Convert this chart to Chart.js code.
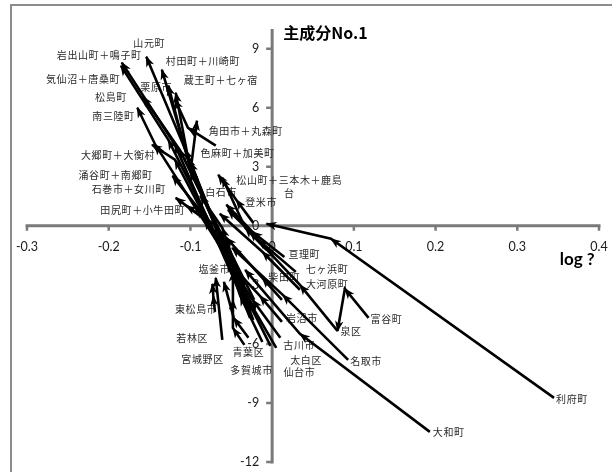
<!DOCTYPE html>
<html>
<head>
<meta charset="utf-8">
<script src="https://cdn.jsdelivr.net/npm/chart.js@4/dist/chart.umd.min.js"></script>
<style>
  html, body { margin: 0; padding: 0; background: #fff; }
  #wrap { width: 612px; height: 472px; position: relative; }
</style>
</head>
<body>
<div id="wrap"><canvas id="c"></canvas></div>
<script>
// Municipality trajectories: x = log growth, y = principal component No.1 score
const names = [
  '岩出山町＋鳴子町', '気仙沼＋唐桑町', '山元町', '村田町＋川崎町', '蔵王町＋七ヶ宿',
  '栗原市', '松島町', '南三陸町', '角田市＋丸森町', '色麻町＋加美町',
  '大郷町＋大衡村', '涌谷町＋南郷町', '石巻市＋女川町', '田尻町＋小牛田町', '白石市',
  '登米市', '松山町＋三本木＋鹿島\n台', '利府町', '大和町', '名取市',
  '富谷町', '泉区', '大河原町', '七ヶ浜町', '亘理町',
  '柴田町', '岩沼市', '古川市', '太白区', '仙台市',
  '多賀城市', '青葉区', '宮城野区', '若林区', '東松島市', '塩釜市'
];

const trackX = [
  [-0.033, -0.119, -0.184], [-0.029, -0.127, -0.185], [-0.027, -0.100, -0.154],
  [-0.023, -0.106, -0.135], [-0.026, -0.103, -0.118], [-0.021, -0.100, -0.127],
  [-0.033, -0.113, -0.158], [-0.061, -0.143, -0.165], [-0.069, -0.103, -0.119],
  [-0.022, -0.100, -0.092], [-0.058, -0.119, -0.147], [-0.033, -0.091, -0.122],
  [-0.032, -0.082, -0.118], [-0.031, -0.070, -0.105], [-0.037, -0.061, -0.088],
  [-0.023, -0.044, -0.066], [-0.007, -0.033, -0.061], [0.345, 0.072, -0.007],
  [0.193, 0.034, -0.033], [0.093, 0.013, -0.049], [0.118, 0.089, 0.080],
  [0.080, 0.034, -0.027], [0.034, -0.012, -0.064], [0.029, -0.017, -0.054],
  [0.015, -0.024, -0.056], [0.012, -0.012, -0.056], [0.012, -0.015, -0.058],
  [0.010, -0.024, -0.056], [0.005, -0.029, -0.054], [-0.002, -0.035, -0.058],
  [-0.012, -0.039, -0.053], [-0.029, -0.047, -0.059], [-0.034, -0.048, -0.048, -0.048],
  [-0.061, -0.069], [-0.070, -0.072, -0.073], [-0.021, -0.042, -0.051]
];

const trackY = [
  [-4.02, 4.12, 8.29], [-3.76, 4.37, 8.13], [-4.68, 3.25, 8.59],
  [-4.78, 3.86, 7.93], [-4.37, 3.46, 6.76], [-4.52, 2.85, 7.12],
  [-3.00, 3.86, 6.56], [-1.22, 4.12, 6.00], [4.07, 4.98, 6.41],
  [-3.76, 2.75, 5.34], [-1.47, 3.36, 4.12], [-3.25, 0.92, 2.54],
  [-3.51, 0.31, 1.42], [-4.02, 0.05, 1.02], [-3.00, -0.10, 1.53],
  [0.15, 1.32, 2.59], [-1.22, -0.10, 2.44], [-8.74, -0.66, 0.10],
  [-10.47, -5.49, -2.24], [-6.81, -3.51, -1.12], [-4.68, -3.20, -5.34],
  [-5.34, -3.00, -0.31], [-3.25, -1.32, 0.61], [-2.34, -0.71, 0.81],
  [-1.58, -0.31, 1.07], [-3.76, -2.64, -0.61], [-4.88, -3.56, -1.63],
  [-5.69, -3.76, -1.63], [-6.20, -3.76, -1.32], [-6.10, -3.36, -0.97],
  [-5.90, -3.56, -1.83], [-5.69, -4.68, -2.85], [-6.05, -5.19, -3.76, -2.34],
  [-5.80, -2.64], [-4.37, -3.56, -2.95], [-4.27, -2.64, -1.63]
];

// which point of each trajectory carries its name
const labelPoint = [2, 2, 2, 2, 2, 2, 2, 2, 0, 1, 2, 2, 2, 2, 2, 1, 2, 0, 0, 0,
                    0, 0, 0, 0, 0, 1, 0, 0, 0, 0, 0, 0, 0, 0, 0, 2];

const xTicks = [-0.3, -0.2, -0.1, 0, 0.1, 0.2, 0.3, 0.4];
const xTickLabels = ['-0.3', '-0.2', '-0.1', '0', '0.1', '0.2', '0.3', '0.4'];
const yTicks = [-12, -9, -6, -3, 0, 3, 6, 9];
const yTickLabels = ['-12', '-9', '-6', '-3', '0', '3', '6', '9'];

const yTitle = '主成分No.1';
const xTitle = 'log ?';

// name placement relative to the labelled point (pixels)
const labelOffset = [
  [-65, -7], [-75, 13], [-13, -14], [4, -9], [8, -13], [-28, 2], [-48, 0], [-45, 8],
  [-7, -15], [10, -18], [-71, 10], [-94, -1], [-84, -9], [-86, 4], [5, -4], [9, 2],
  [14, 2], [2, 1], [3, 0], [2, 1], [2, 1], [3, 0], [6, -6], [10, -3], [4, -3],
  [6, -1], [4, -4], [3, 7], [14, 12], [13, 26], [-32, 28], [-16, 14], [-63, 14],
  [-46, -2], [-40, -3], [-32, 11]
];

const datasets = names.map((n, i) => ({
  label: n,
  data: trackX[i].map((x, k) => ({ x: x, y: trackY[i][k] })),
  showLine: true,
  borderColor: '#000',
  backgroundColor: '#000',
  borderWidth: 2.6,
  pointRadius: 0,
  pointHoverRadius: 0,
  tension: 0,
  clip: false
}));

const framePlugin = {
  id: 'frame',
  beforeDraw(chart) {
    const ctx = chart.ctx;
    ctx.save();
    ctx.fillStyle = '#fff';
    ctx.fillRect(0, 0, chart.width, chart.height);
    ctx.strokeStyle = '#8c8c8c';
    ctx.lineWidth = 2;
    ctx.strokeRect(11, 5, chart.width + 40, chart.height + 40);
    ctx.restore();
  }
};

const axesPlugin = {
  id: 'crossAxes',
  beforeDatasetsDraw(chart) {
    const ctx = chart.ctx;
    const xs = chart.scales.x, ys = chart.scales.y;
    const x0 = xs.getPixelForValue(0), y0 = ys.getPixelForValue(0);
    ctx.save();
    ctx.strokeStyle = '#7a7a7a';
    ctx.lineWidth = 3;
    ctx.lineCap = 'butt';
    ctx.beginPath();
    ctx.moveTo(xs.getPixelForValue(xTicks[0]) - 1.5, y0);
    ctx.lineTo(xs.getPixelForValue(xTicks[xTicks.length - 1]) + 1.5, y0);
    ctx.moveTo(x0, ys.getPixelForValue(yTicks[0]) + 1.5);
    ctx.lineTo(x0, chart.chartArea.top);
    ctx.stroke();
    ctx.lineWidth = 2.5;
    ctx.beginPath();
    xTicks.forEach(v => {
      const px = xs.getPixelForValue(v);
      ctx.moveTo(px, y0);
      ctx.lineTo(px, y0 + 5);
    });
    yTicks.forEach(v => {
      const py = ys.getPixelForValue(v);
      ctx.moveTo(x0, py);
      ctx.lineTo(x0 - 6, py);
    });
    ctx.stroke();

    ctx.fillStyle = '#1a1a1a';
    ctx.font = '12.5px Lato, "Liberation Sans", sans-serif';
    ctx.textBaseline = 'middle';
    ctx.textAlign = 'center';
    xTicks.forEach((v, i) => ctx.fillText(xTickLabels[i], xs.getPixelForValue(v), y0 + 21));
    ctx.textAlign = 'right';
    yTicks.forEach((v, i) => ctx.fillText(yTickLabels[i], x0 - 13, ys.getPixelForValue(v)));

    // axis titles
    ctx.fillStyle = '#000';
    ctx.textAlign = 'left';
    ctx.font = 'bold 16px "Noto Sans CJK JP", sans-serif';
    ctx.fillText(yTitle, x0 + 11, ys.getPixelForValue(9.8));
    ctx.font = 'bold 17px Lato, "Liberation Sans", sans-serif';
    ctx.fillText(xTitle, xs.getPixelForValue(0.352), y0 + 34);

    // municipality names
    ctx.font = '10px "Noto Sans CJK JP", sans-serif';
    ctx.fillStyle = '#2a2a2a';
    try { ctx.letterSpacing = '0.6px'; } catch (e) {}
    names.forEach((n, i) => {
      const pt = chart.getDatasetMeta(i).data[labelPoint[i]];
      if (!pt) return;
      const lx = pt.x + labelOffset[i][0];
      const ly = pt.y + labelOffset[i][1];
      const lines = n.split('\n');
      const w0 = ctx.measureText(lines[0]).width;
      lines.forEach((t, k) => {
        if (k === 0) {
          ctx.textAlign = 'left';
          ctx.fillText(t, lx, ly);
        } else {
          ctx.textAlign = 'center';
          ctx.fillText(t, lx + w0 / 2, ly + 13 * k);
        }
      });
    });
    ctx.restore();
  }
};

const arrowPlugin = {
  id: 'arrowHeads',
  afterDatasetsDraw(chart) {
    const ctx = chart.ctx;
    ctx.save();
    ctx.fillStyle = '#000';
    chart.data.datasets.forEach((ds, i) => {
      const pts = chart.getDatasetMeta(i).data;
      for (let k = 1; k < pts.length; k++) {
        const a = pts[k - 1], b = pts[k];
        const ang = Math.atan2(b.y - a.y, b.x - a.x);
        const len = 10, half = 4.2, notch = 7;
        ctx.save();
        ctx.translate(b.x, b.y);
        ctx.rotate(ang);
        ctx.beginPath();
        ctx.moveTo(1, 0);
        ctx.lineTo(-len, -half);
        ctx.lineTo(-notch, 0);
        ctx.lineTo(-len, half);
        ctx.closePath();
        ctx.fill();
        ctx.restore();
      }
    });
    ctx.restore();
  }
};

new Chart(document.getElementById('c'), {
  type: 'scatter',
  data: { datasets: datasets },
  options: {
    responsive: true,
    maintainAspectRatio: false,
    animation: false,
    events: [],
    layout: { padding: { left: 27, right: 13, top: 29, bottom: 10 } },
    plugins: { legend: { display: false }, tooltip: { enabled: false }, title: { display: false } },
    scales: {
      x: { type: 'linear', min: -0.3, max: 0.4, display: false },
      y: { type: 'linear', min: -12, max: 10, display: false }
    }
  },
  plugins: [framePlugin, axesPlugin, arrowPlugin]
});
</script>
</body>
</html>
